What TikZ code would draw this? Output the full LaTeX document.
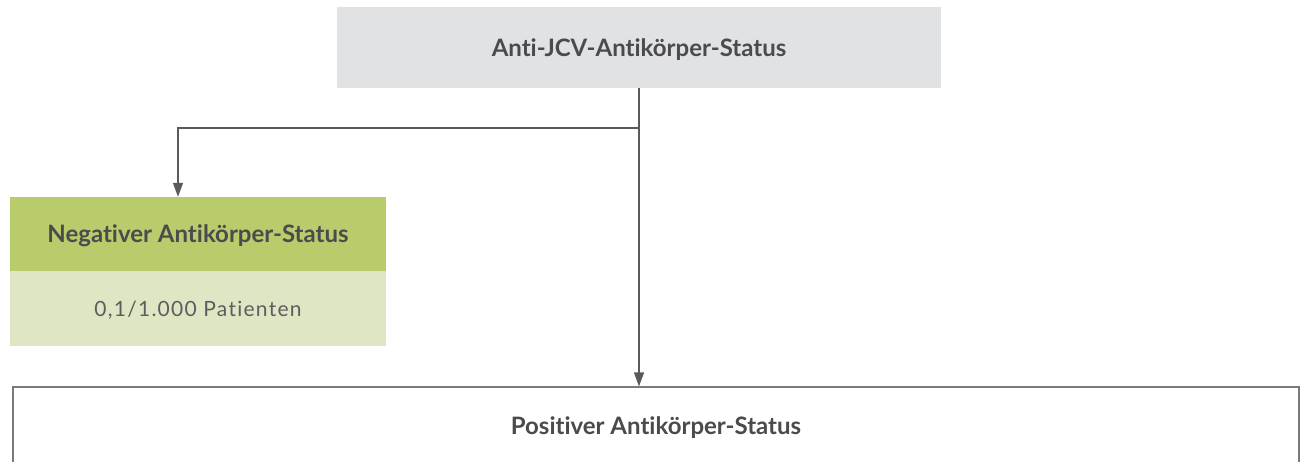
\documentclass[tikz,border=0pt]{standalone}
\usepackage{fontspec}
\setmainfont[Ligatures=NoCommon]{Lato}
\newfontfamily\bodyfont[LetterSpace=6,Ligatures=NoCommon]{Lato}
\usetikzlibrary{arrows.meta}
\definecolor{txt}{HTML}{4B4B4D}
\definecolor{topfill}{HTML}{E1E2E4}
\definecolor{greenhead}{HTML}{B8CC6C}
\definecolor{greenbody}{HTML}{DFE6C3}
\definecolor{linec}{HTML}{5A5A5C}
\tikzset{
  box/.style={rectangle, inner sep=0pt, text=txt, text depth=0pt, font=\fontsize{24}{28}\selectfont\bfseries},
  conn/.style={draw=linec, line width=1.3pt, -{Triangle[width=10pt,length=14pt]}},
}
\begin{document}
\begin{tikzpicture}[x=1pt,y=-1pt]
\useasboundingbox (0,0) rectangle (1301,461);
\node[box, fill=topfill, minimum width=604pt, minimum height=81pt] (top) at (639,47.5) {Anti-JCV-Antikörper-Status};
\node[box, fill=greenhead, minimum width=376pt, minimum height=74pt] (neg) at (198,234) {Negativer Antikörper-Status};
\node[box, fill=greenbody, minimum width=376pt, minimum height=75pt, font=\bodyfont\fontsize{21}{25}\selectfont, text=txt!90] (negbody) at (198,308.5) {0,1/1.000 Patienten};
\node[box, draw=linec!80, line width=1.2pt, fill=white, minimum width=1286pt, minimum height=78pt] (pos) at (656,426) {Positiver Antikörper-Status};
\coordinate (br) at (178,128);
\draw[conn] (top.south) -- (top.south |- pos.north);
\draw[conn] (br -| top.south) -- (br) -- (br |- neg.north);
\end{tikzpicture}
\end{document}
